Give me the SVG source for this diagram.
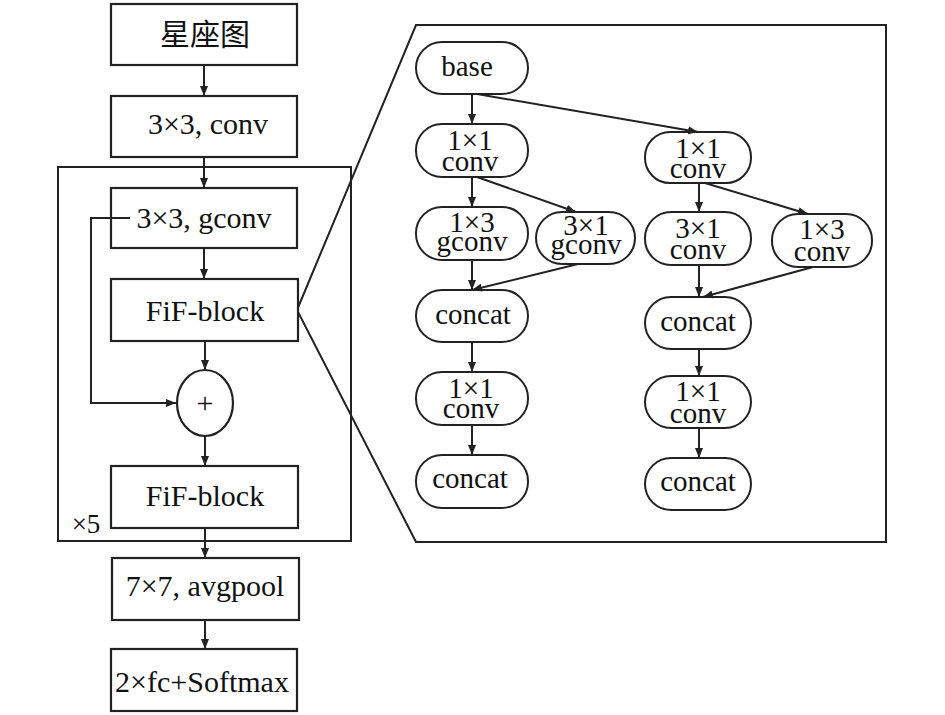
<svg xmlns="http://www.w3.org/2000/svg" width="945" height="715" viewBox="0 0 945 715">
<style>
  .box{fill:#fff;stroke:#222;stroke-width:2.2}
  .frame{fill:none;stroke:#222;stroke-width:2}
  .node{fill:#fff;stroke:#222;stroke-width:2}
  .t{font-family:"Liberation Serif","Noto Sans CJK SC",serif;fill:#111;text-anchor:middle}
  .big{font-size:30px}
  .sm{font-size:29px}
  .conn line,.conn polyline{stroke:#222;stroke-width:2;fill:none;marker-end:url(#ah)}
</style>
<defs>
  <marker id="ah" viewBox="0 0 10 8" markerWidth="10" markerHeight="8" refX="10" refY="4" orient="auto" markerUnits="userSpaceOnUse">
    <path d="M0,0 L10,4 L0,8 z" fill="#222"/>
  </marker>
</defs>
<rect width="945" height="715" fill="#fff"/>

<g id="repeat-frame">
  <rect class="frame" x="58" y="167" width="293" height="374"/>
  <text class="t" x="86" y="533" style="font-size:27px">×5</text>
</g>
<g id="zoom-panel">
  <polygon class="frame" points="297,310 416,25 886,25 886,542 416,542"/>
</g>

<g id="n-src"><rect class="box" x="111" y="4" width="186" height="61"/><text class="t big" x="205" y="45">星座图</text></g>
<g id="n-conv"><rect class="box" x="111" y="96" width="186" height="61"/><text class="t big" x="208" y="134">3×3, conv</text></g>
<g id="n-gconv"><rect class="box" x="111" y="188" width="186" height="60"/><text class="t big" x="204" y="228">3×3, gconv</text></g>
<g id="n-fif1"><rect class="box" x="111" y="279" width="187" height="62"/><text class="t big" x="205" y="321">FiF-block</text></g>
<g id="n-plus"><ellipse class="box" cx="205" cy="403" rx="28" ry="33"/><text class="t" x="205" y="413" style="font-size:30px">+</text></g>
<g id="n-fif2"><rect class="box" x="111" y="466" width="187" height="62"/><text class="t big" x="205" y="506">FiF-block</text></g>
<g id="n-pool"><rect class="box" x="112" y="558" width="187" height="62"/><text class="t big" x="205" y="596">7×7, avgpool</text></g>
<g id="n-fc"><rect class="box" x="111" y="649" width="186" height="62"/><text class="t big" x="202" y="692">2×fc+Softmax</text></g>

<g id="n-base"><rect class="node" x="416" y="42" width="112" height="52" rx="26"/><text class="t sm" x="467" y="76">base</text></g>
<g id="n-l-c1"><rect class="node" x="416" y="124" width="112" height="53" rx="26"/><text class="t sm" x="470" y="150">1×1</text><text class="t sm" x="470" y="171">conv</text></g>
<g id="n-l-g13"><rect class="node" x="416" y="207" width="112" height="53" rx="26"/><text class="t sm" x="472" y="232">1×3</text><text class="t sm" x="472" y="251">gconv</text></g>
<g id="n-l-g31"><rect class="node" x="536" y="212" width="99" height="52" rx="26"/><text class="t sm" x="586" y="235">3×1</text><text class="t sm" x="586" y="254">gconv</text></g>
<g id="n-l-cat1"><rect class="node" x="416" y="290" width="112" height="52" rx="26"/><text class="t sm" x="473" y="324">concat</text></g>
<g id="n-l-c2"><rect class="node" x="416" y="372" width="112" height="53" rx="26"/><text class="t sm" x="471" y="398">1×1</text><text class="t sm" x="471" y="418">conv</text></g>
<g id="n-l-cat2"><rect class="node" x="416" y="455" width="112" height="53" rx="26"/><text class="t sm" x="470" y="488">concat</text></g>

<g id="n-r-c1"><rect class="node" x="645" y="132" width="106" height="51" rx="25"/><text class="t sm" x="698" y="158">1×1</text><text class="t sm" x="698" y="178">conv</text></g>
<g id="n-r-c31"><rect class="node" x="645" y="212" width="106" height="53" rx="26"/><text class="t sm" x="698" y="238">3×1</text><text class="t sm" x="698" y="259">conv</text></g>
<g id="n-r-c13"><rect class="node" x="772" y="214" width="100" height="53" rx="26"/><text class="t sm" x="822" y="239">1×3</text><text class="t sm" x="822" y="261">conv</text></g>
<g id="n-r-cat1"><rect class="node" x="645" y="297" width="106" height="52" rx="26"/><text class="t sm" x="698" y="331">concat</text></g>
<g id="n-r-c2"><rect class="node" x="645" y="376" width="106" height="52" rx="26"/><text class="t sm" x="698" y="401">1×1</text><text class="t sm" x="698" y="423">conv</text></g>
<g id="n-r-cat2"><rect class="node" x="645" y="458" width="106" height="52" rx="26"/><text class="t sm" x="698" y="491">concat</text></g>

<g id="connectors" class="conn">
  <line x1="204" y1="65" x2="204" y2="96"/>
  <line x1="204" y1="157" x2="204" y2="188"/>
  <line x1="204" y1="248" x2="204" y2="279"/>
  <line x1="205" y1="341" x2="205" y2="370"/>
  <line x1="205" y1="436" x2="205" y2="466"/>
  <line x1="205" y1="528" x2="205" y2="558"/>
  <line x1="205" y1="620" x2="205" y2="649"/>
  <polyline points="130,218 91,218 91,403 176,403"/>

  <line x1="472" y1="94" x2="472" y2="124"/>
  <line x1="477" y1="94" x2="698" y2="132"/>
  <line x1="472" y1="177" x2="472" y2="207"/>
  <line x1="477" y1="177" x2="576" y2="212"/>
  <line x1="472" y1="260" x2="472" y2="290"/>
  <line x1="578" y1="264" x2="472" y2="290"/>
  <line x1="472" y1="342" x2="472" y2="372"/>
  <line x1="472" y1="425" x2="472" y2="455"/>

  <line x1="699" y1="183" x2="699" y2="212"/>
  <line x1="705" y1="183" x2="808" y2="214"/>
  <line x1="699" y1="265" x2="699" y2="297"/>
  <line x1="813" y1="267" x2="703" y2="297"/>
  <line x1="699" y1="349" x2="699" y2="376"/>
  <line x1="699" y1="428" x2="699" y2="458"/>
</g>
</svg>
